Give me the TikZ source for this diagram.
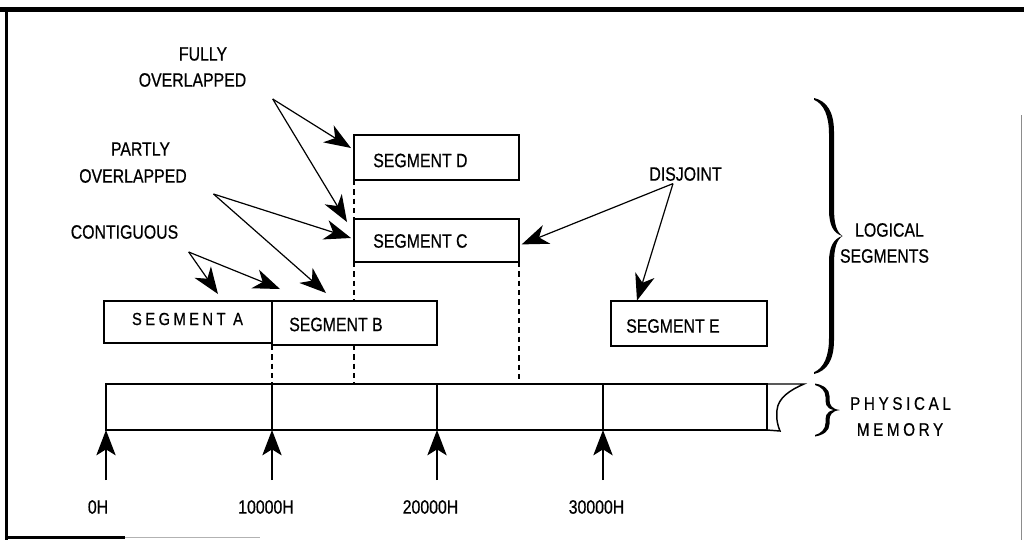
\documentclass[tikz,border=0pt]{standalone}
\usepackage{fontspec}
\setmainfont{Liberation Sans}[FakeStretch=0.82,FakeBold=0.6]
\newfontfamily\trackedfont{Liberation Sans}[FakeStretch=0.84,FakeBold=0.6,LetterSpace=20]
\usetikzlibrary{arrows.meta,fit}

\begin{document}
\begin{tikzpicture}[x=0.75pt,y=-0.75pt,
  lbl/.style={inner sep=0pt, font=\fontsize{14.5}{17}\selectfont},
  tracked/.style={inner sep=0pt, font=\trackedfont\fontsize{13.1}{15}\selectfont},
  segbox/.style={draw, line width=1.1pt, inner sep=0pt, outer sep=0pt},
  pointer/.style={line width=0.9pt, -{Stealth[length=20pt,width=15pt,inset=6pt]}},
  upmark/.style={line width=1pt, -{Stealth[length=19pt,width=14.5pt,inset=4.5pt]}},
  guide/.style={line width=0.8pt, dash pattern=on 4pt off 3pt},
  barline/.style={line width=1.1pt},
]
\useasboundingbox (0,0) rectangle (1024,540);

% frame
\draw[line width=3.75pt] (0,9) -- (1024,9);
\draw[line width=2.3pt] (6.5,9) -- (6.5,540);
\draw[line width=1.6pt] (5,537.5) -- (125,537.5);
\draw[line width=1pt, black!30] (125,537.5) -- (260,537.5);
\draw[line width=0.9pt, black!45] (1021.5,115) -- (1021.5,540);

% logical segments
\node[segbox, fit={(104,301)(272,343)}] (A) {};
\node[segbox, fit={(272,301)(437,345)}] (B) {};
\node[segbox, fit={(354,135)(519,180)}] (D) {};
\node[segbox, fit={(354,219)(519,262)}] (C) {};
\node[segbox, fit={(611,301)(767,346)}] (E) {};

\node[tracked] (Atxt) at (187.5,319) {SEGMENT A};
\node[lbl, anchor=west] (Btxt) at (289,324.5) {SEGMENT B};
\node[lbl, anchor=west] (Ctxt) at (373,241) {SEGMENT C};
\node[lbl, anchor=west] (Dtxt) at (373,160.5) {SEGMENT D};
\node[lbl, anchor=west] (Etxt) at (626,326) {SEGMENT E};

% physical memory bar
\node[segbox, fit={(106,384)(767,430)}] (mem) {};
\draw[barline] (mem.north east) -- (804,384)
  .. controls (790,390) and (778,398) .. (777,410)
  .. controls (776,420) and (778,426) .. (780,431) -- (mem.south east);
\foreach \x in {272,437,603}
  \draw[barline] (\x,0 |- mem.north) -- (\x,0 |- mem.south);

% address marks
\foreach \x/\n in {106/0,272/1,437/2,603/3} {
  \coordinate (a\n) at (\x,480);
  \draw[upmark] (a\n) -- (a\n |- mem.south);
}
\node[lbl] (h0) at (98,507) {0H};
\node[lbl] (h1) at (266,507) {10000H};
\node[lbl] (h2) at (430.5,507) {20000H};
\node[lbl] (h3) at (596.5,507) {30000H};

% projection guides
\draw[guide] (B.south west) -- (B.south west |- mem.north);
\draw[guide] (D.south west) -- (C.north west);
\draw[guide] (C.south west) -- (C.south west |- B.north);
\draw[guide] (C.south west |- B.south) -- (C.south west |- mem.north);
\draw[guide] (C.south east) -- (C.south east |- mem.north);

% relationship labels
\node[lbl] (fully) at (203,54) {FULLY};
\node[lbl] (fover) at (192.5,80) {OVERLAPPED};
\node[lbl] (partly) at (140.5,149) {PARTLY};
\node[lbl] (pover) at (133,176) {OVERLAPPED};
\node[lbl] (contig) at (124.5,232) {CONTIGUOUS};
\node[lbl] (disj) at (685.5,174) {DISJOINT};

\coordinate (foSrc) at (272.7,99);
\coordinate (poSrc) at (213.5,194);
\coordinate (coSrc) at (188.7,252);
\coordinate (diSrc) at (673,183.6);

\coordinate (tipD) at (351,148);
\coordinate (tipC1) at (347,222);
\coordinate (tipC2) at (351,238);
\coordinate (tipB) at (326,293);
\coordinate (tipA) at (218,294);
\coordinate (tipAB) at (280,289);
\coordinate (tipC3) at (521.7,244.4);
\coordinate (tipE) at (637,300.6);

\draw[pointer] (foSrc) -- (tipD);
\draw[pointer] (foSrc) -- (tipC1);
\draw[pointer] (poSrc) -- (tipC2);
\draw[pointer] (poSrc) -- (tipB);
\draw[pointer] (coSrc) -- (tipA);
\draw[pointer] (coSrc) -- (tipAB);
\draw[pointer] (diSrc) -- (tipC3);
\draw[pointer] (diSrc) -- (tipE);

% braces
\fill (814,98) .. controls (827,101) and (834,112) .. (834,132) -- (834,208)
  .. controls (834,224) and (836.5,232) .. (842.5,236)
  .. controls (834,233.5) and (829,226) .. (829,210) -- (829,134)
  .. controls (829,116) and (824,104) .. (814,99.8) -- cycle;
\fill (842.5,236) .. controls (836.5,240) and (834,248) .. (834,264) -- (834,340)
  .. controls (834,360) and (827,371) .. (814,374) -- (814,372.2)
  .. controls (824,368) and (829,356) .. (829,338) -- (829,262)
  .. controls (829,246) and (834,238.5) .. (842.5,236) -- cycle;
\node[lbl] (logical) at (889.5,230) {LOGICAL};
\node[lbl] (segs) at (884.5,256) {SEGMENTS};

\fill (815,383.5) .. controls (823.5,385) and (829.5,389) .. (829.5,396) -- (829.5,400)
  .. controls (829.5,405) and (832,409) .. (839.5,410)
  .. controls (830,411) and (825.5,407) .. (825.5,401) -- (825.5,397)
  .. controls (825.5,391) and (821,386.5) .. (815,385) -- cycle;
\fill (839.5,410) .. controls (832,411) and (829.5,415) .. (829.5,420) -- (829.5,424)
  .. controls (829.5,431) and (823.5,435) .. (815,436.5) -- (815,435)
  .. controls (821,433.5) and (825.5,429) .. (825.5,423) -- (825.5,419)
  .. controls (825.5,413) and (830,409) .. (839.5,410) -- cycle;
\node[tracked, font=\trackedfont\fontsize{13.6}{15}\selectfont] (phys) at (900.5,403.5) {PHYSICAL};
\node[tracked, font=\trackedfont\fontsize{13.6}{15}\selectfont] (memtxt) at (900,429.5) {MEMORY};
\end{tikzpicture}
\end{document}
